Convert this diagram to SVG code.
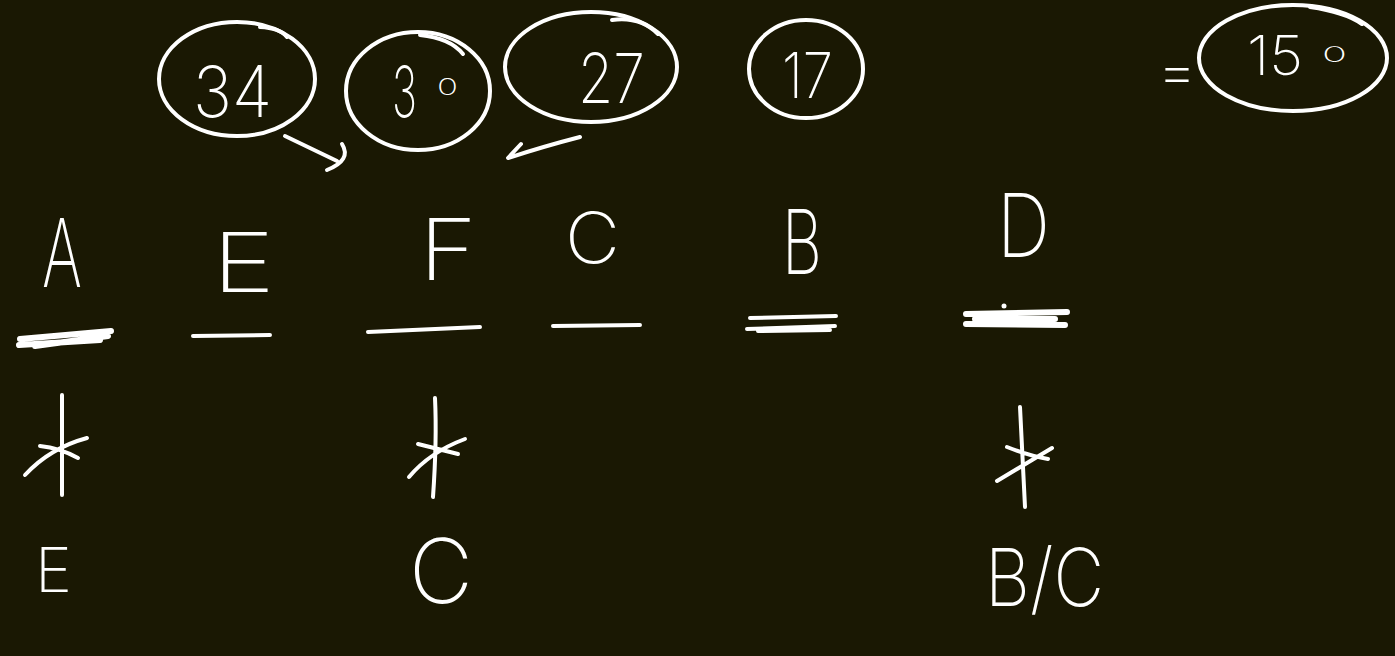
<svg xmlns="http://www.w3.org/2000/svg" width="1395" height="656" viewBox="0 0 1395 656">
<style>
.ink{fill:none;stroke:#ffffff;stroke-width:4;stroke-linecap:round;stroke-linejoin:round}
.bold{fill:none;stroke:#ffffff;stroke-width:6;stroke-linecap:round}
.t{fill:#ffffff;font-family:"Inter","Lato","Liberation Sans",sans-serif;font-weight:200}
</style>
<rect x="0" y="0" width="1395" height="656" fill="#1a1803"/>

<g id="n34">
<ellipse class="ink" cx="237" cy="79" rx="78" ry="57"/>
<path class="ink" d="M260,27 Q280,28 287,37"/>
<text class="t" x="193" y="117" font-size="71" textLength="79" lengthAdjust="spacingAndGlyphs">34</text>
</g>
<g id="n30">
<ellipse class="ink" cx="418" cy="91" rx="72" ry="59"/>
<path class="ink" d="M420,35 Q450,38 463,54"/>
<text class="t" x="392" y="117" font-size="71" textLength="25" lengthAdjust="spacingAndGlyphs">3</text>
<text class="t" x="437" y="95" font-size="23" textLength="21" lengthAdjust="spacingAndGlyphs">0</text>
</g>
<g id="n27">
<ellipse class="ink" cx="591" cy="67" rx="86" ry="55"/>
<path class="ink" d="M612,20 Q640,16 658,34"/>
<text class="t" x="578" y="103" font-size="69" textLength="67" lengthAdjust="spacingAndGlyphs">27</text>
</g>
<g id="n17">
<ellipse class="ink" cx="806" cy="69" rx="57" ry="49"/>
<text class="t" x="782" y="98" font-size="63" textLength="51" lengthAdjust="spacingAndGlyphs">17</text>
</g>
<g id="n150">
<text class="t" x="1157" y="92" font-size="60" textLength="40" lengthAdjust="spacingAndGlyphs">=</text>
<ellipse class="ink" cx="1293" cy="58" rx="94" ry="53"/>
<path class="ink" d="M1310,7 Q1345,12 1362,24"/>
<text class="t" x="1247" y="75" font-size="55" textLength="56" lengthAdjust="spacingAndGlyphs">15</text>
<text class="t" x="1322" y="62" font-size="21" textLength="25" lengthAdjust="spacingAndGlyphs">0</text>
</g>

<g id="connectors">
<path class="ink" d="M285,136 L337,161"/>
<path class="ink" d="M342,144 Q352,160 327,170"/>
<path class="ink" d="M580,137 Q545,146 508,158 L521,144"/>
</g>

<g id="colA">
<text class="t" x="42" y="287" font-size="95" textLength="40" lengthAdjust="spacingAndGlyphs">A</text>
<path class="bold" d="M20,339 L111,331 M19,345 L100,340 M35,346 L108,336"/>
<path class="ink" d="M62,395 L62,495 M25,475 Q50,448 87,438 M40,446 Q60,448 78,458"/>
<text class="t" x="35" y="592" font-size="62" textLength="37" lengthAdjust="spacingAndGlyphs">E</text>
</g>
<g id="colE">
<text class="t" x="212" y="292" font-size="82" textLength="63" lengthAdjust="spacingAndGlyphs">E</text>
<path class="ink" d="M193,336 L270,335"/>
</g>
<g id="colF">
<text class="t" x="419" y="280" font-size="85" textLength="58" lengthAdjust="spacingAndGlyphs">F</text>
<path class="ink" d="M368,332 L480,327"/>
<path class="ink" d="M435,398 Q437,440 433,497 M409,477 Q430,452 465,439 M418,444 L458,454"/>
<text class="t" x="409" y="603" font-size="89" textLength="64" lengthAdjust="spacingAndGlyphs">C</text>
</g>
<g id="colC">
<text class="t" x="565" y="263" font-size="70" textLength="55" lengthAdjust="spacingAndGlyphs">C</text>
<path class="ink" d="M553,326 L640,325"/>
</g>
<g id="colB">
<text class="t" x="782" y="274" font-size="90" textLength="40" lengthAdjust="spacingAndGlyphs">B</text>
<path class="ink" d="M750,318 L836,316 M747,329 L835,326 M758,331 L830,330"/>
</g>
<g id="colD">
<text class="t" x="997" y="257" font-size="88" textLength="53" lengthAdjust="spacingAndGlyphs">D</text>
<path class="bold" stroke-width="9" d="M966,314 L1067,312 M966,324 L1065,325 M975,319 L1055,319"/>
<circle cx="1004" cy="306" r="2.5" fill="#ffffff"/>
<path class="ink" d="M1020,407 L1025,507 M997,481 L1052,448 M1007,447 Q1030,456 1048,459"/>
<text class="t" x="985" y="606" font-size="80" textLength="119" lengthAdjust="spacingAndGlyphs">B/C</text>
</g>
</svg>
